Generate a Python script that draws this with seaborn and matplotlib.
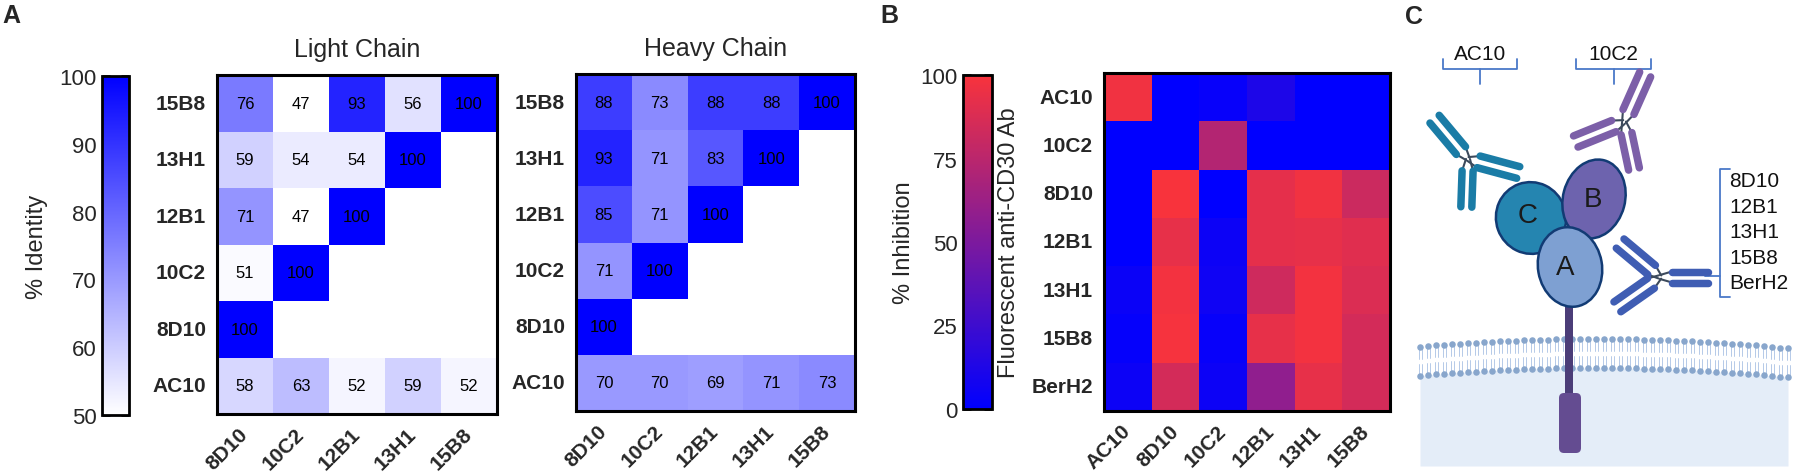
import numpy as np
import pandas as pd
import seaborn as sns
import matplotlib
matplotlib.use("Agg")
import matplotlib.pyplot as plt
from matplotlib.colors import LinearSegmentedColormap
from matplotlib.patches import Ellipse, FancyBboxPatch

# data
clones = ["8D10", "10C2", "12B1", "13H1", "15B8"]
rows_id = ["15B8", "13H1", "12B1", "10C2", "8D10", "AC10"]
nan = np.nan
light_chain = [[76, 47, 93, 56, 100],
               [59, 54, 54, 100, nan],
               [71, 47, 100, nan, nan],
               [51, 100, nan, nan, nan],
               [100, nan, nan, nan, nan],
               [58, 63, 52, 59, 52]]
heavy_chain = [[88, 73, 88, 88, 100],
               [93, 71, 83, 100, nan],
               [85, 71, 100, nan, nan],
               [71, 100, nan, nan, nan],
               [100, nan, nan, nan, nan],
               [70, 70, 69, 71, 73]]

rows_inh = ["AC10", "10C2", "8D10", "12B1", "13H1", "15B8", "BerH2"]
cols_inh = ["AC10", "8D10", "10C2", "12B1", "13H1", "15B8"]
inhibition = [[97, 0, 3, 12, 0, 0],
              [0, 0, 72, 0, 0, 0],
              [0, 100, 0, 92, 97, 82],
              [0, 93, 5, 92, 93, 90],
              [4, 98, 6, 83, 98, 88],
              [2, 99, 3, 93, 98, 85],
              [5, 85, 5, 58, 93, 85]]

cd30_groups = ["AC10", "10C2"]
shared_group = ["8D10", "12B1", "13H1", "15B8", "BerH2"]

df_light = pd.DataFrame(light_chain, index=rows_id, columns=clones)
df_heavy = pd.DataFrame(heavy_chain, index=rows_id, columns=clones)
df_inh = pd.DataFrame(inhibition, index=rows_inh, columns=cols_inh)

sns.set_theme(style="white")
plt.rcParams["font.family"] = ["Liberation Sans", "DejaVu Sans"]

W, H = 1797, 477
fig = plt.figure(figsize=(W / 100, H / 100), dpi=100)


def box(x0, y0, x1, y1):
    return [x0 / W, 1 - y1 / H, (x1 - x0) / W, (y1 - y0) / H]


cmap_id = LinearSegmentedColormap.from_list("ident", ["#ffffff", "#0000ff"])
cmap_inh = LinearSegmentedColormap.from_list("inh", ["#0000ff", "#f8333c"])

ax_l = fig.add_axes(box(217, 76, 497, 415))
ax_h = fig.add_axes(box(576, 75, 855, 412))
cax_a = fig.add_axes(box(102, 77, 129, 416))
ax_b = fig.add_axes(box(1104, 74, 1390, 412))
cax_b = fig.add_axes(box(963, 76, 992, 410))

annot_kw = {"size": 12, "color": "black"}
sns.heatmap(df_light, ax=ax_l, cmap=cmap_id, vmin=50, vmax=100, annot=True,
            fmt=".0f", annot_kws=annot_kw, cbar=True, cbar_ax=cax_a)
sns.heatmap(df_heavy, ax=ax_h, cmap=cmap_id, vmin=50, vmax=100, annot=True,
            fmt=".0f", annot_kws=annot_kw, cbar=False)
sns.heatmap(df_inh, ax=ax_b, cmap=cmap_inh, vmin=0, vmax=100, annot=False,
            cbar=True, cbar_ax=cax_b)

for ax in [ax_l, ax_h, ax_b]:
    for sp in ax.spines.values():
        sp.set_visible(True)
        sp.set_linewidth(2.2)
        sp.set_color("black")
    ax.tick_params(length=0)
    ax.tick_params(axis="y", pad=8)
    ax.tick_params(axis="x", pad=12)
    plt.setp(ax.get_yticklabels(), rotation=0, fontsize=15, fontweight="bold")
    plt.setp(ax.get_xticklabels(), rotation=45, ha="right", va="center",
             rotation_mode="anchor", fontsize=15, fontweight="bold")

ax_l.set_title("Light Chain", fontsize=18, pad=14)
ax_h.set_title("Heavy Chain", fontsize=18, pad=14)
ax_b.set_ylabel("Fluorescent anti-CD30 Ab", fontsize=17, labelpad=8)

for hm, cax, ticks, lab, lp in [(ax_l, cax_a, [50, 60, 70, 80, 90, 100], "% Identity", 8),
                                (ax_b, cax_b, [0, 25, 50, 75, 100], "% Inhibition", 4)]:
    cb = hm.collections[0].colorbar
    cb.set_ticks(ticks)
    cb.outline.set_linewidth(2)
    cb.outline.set_edgecolor("black")
    cax.yaxis.set_ticks_position("both")
    cax.yaxis.set_label_position("left")
    cax.tick_params(axis="y", direction="in", left=True, right=True,
                    labelleft=True, labelright=False, length=6, width=1.8,
                    labelsize=16, pad=4, color="black")
    cax.set_ylabel(lab, fontsize=17, labelpad=lp)

fig.text(2 / W, 1 - 4 / H, "A", fontsize=18, fontweight="bold", va="top")
fig.text(880 / W, 1 - 4 / H, "B", fontsize=18, fontweight="bold", va="top")
fig.text(1405 / W, 1 - 5 / H, "C", fontsize=18, fontweight="bold", va="top")

# panel C: schematic, drawn in pixel units
ax_c = fig.add_axes([1400 / W, 0, 397 / W, 1])
ax_c.set_xlim(1400, 1797)
ax_c.set_ylim(477, 0)
ax_c.axis("off")

xs = np.arange(1420, 1792, 8)
y_top = 340 + 0.00025 * (xs - 1595) ** 2
y_bot = y_top + 29
ax_c.fill_between(xs, y_bot, 467, color="#e4edf8", lw=0, zorder=1)
for x, yt, yb in zip(xs, y_top, y_bot):
    ax_c.plot([x - 1.5, x - 1.5], [yt, yt + 12], color="#a9c2e4", lw=0.6, zorder=2)
    ax_c.plot([x + 1.5, x + 1.5], [yt, yt + 12], color="#a9c2e4", lw=0.6, zorder=2)
    ax_c.plot([x - 1.5, x - 1.5], [yb, yb - 12], color="#a9c2e4", lw=0.6, zorder=2)
    ax_c.plot([x + 1.5, x + 1.5], [yb, yb - 12], color="#a9c2e4", lw=0.6, zorder=2)
ax_c.scatter(xs, y_top, s=22, color="#88a6cc", lw=0, zorder=3)
ax_c.scatter(xs, y_bot, s=22, color="#88a6cc", lw=0, zorder=3)

# CD30 stalk and intracellular part
ax_c.plot([1569, 1569], [300, 400], color="#4b3d78", lw=8 / 1.39,
          solid_capstyle="butt", zorder=4)
ax_c.add_patch(FancyBboxPatch((1559, 394), 22, 60, boxstyle="round,pad=0,rounding_size=5",
                              fc="#644c91", ec="none", zorder=5))

# domains
edge = "#123b74"
ax_c.add_patch(Ellipse((1531, 219), 70, 72, angle=-20, fc="#2585b0", ec=edge, lw=1.8, zorder=5))
ax_c.add_patch(Ellipse((1594, 200), 62, 80, angle=15, fc="#6d63ae", ec=edge, lw=1.8, zorder=6))
ax_c.add_patch(Ellipse((1570, 268), 64, 80, angle=-10, fc="#7ea0d2", ec=edge, lw=1.8, zorder=7))
ax_c.text(1528, 216, "C", fontsize=20, ha="center", va="center", color="#1a1a1a", zorder=8)
ax_c.text(1593, 200, "B", fontsize=20, ha="center", va="center", color="#1a1a1a", zorder=8)
ax_c.text(1565, 268, "A", fontsize=20, ha="center", va="center", color="#1a1a1a", zorder=8)


def antibody(ax, hx, hy, fc_ang, fab_angs, color):
    lw = 7.5 / 1.39
    for ang, r0, r1, off in [(fc_ang, 12, 48, 5.5)] + [(a, 11, 52, 6) for a in fab_angs]:
        t = np.deg2rad(ang)
        d = np.array([np.cos(t), np.sin(t)])
        p = np.array([-np.sin(t), np.cos(t)])
        for s in (-1, 1):
            a = np.array([hx, hy]) + d * r0 + p * off * s
            b = np.array([hx, hy]) + d * r1 + p * off * s
            ax.plot([a[0], b[0]], [a[1], b[1]], color=color, lw=lw,
                    solid_capstyle="round", zorder=6)
            ax.plot([hx + p[0] * 2 * s, a[0]], [hy + p[1] * 2 * s, a[1]],
                    color="#3c4a5c", lw=1.5, zorder=5)


antibody(ax_c, 1468, 160, 92, [230, 15], "#1a7ca6")
antibody(ax_c, 1624, 123, 78, [294, 158], "#7c5fa8")
antibody(ax_c, 1660, 278, 0, [220, 145], "#3f5db3")

# brackets and labels
bc = "#4a78c8"
for (x0, x1), name in zip([(1443, 1517), (1576, 1651)], cd30_groups):
    xm = (x0 + x1) / 2
    ax_c.plot([x0, x0, x1, x1], [60, 70, 70, 60], color=bc, lw=1.3, zorder=4)
    ax_c.plot([xm, xm], [70, 85], color=bc, lw=1.3, zorder=4)
    ax_c.text(xm, 54, name, fontsize=15, ha="center", va="center", color="#111111")

ax_c.plot([1730, 1720, 1720, 1730], [170, 170, 298, 298], color=bc, lw=1.3, zorder=4)
ax_c.plot([1720, 1705], [277, 277], color=bc, lw=1.3, zorder=4)
for i, name in enumerate(shared_group):
    ax_c.text(1729, 182 + i * 25.5, name, fontsize=15, ha="left", va="center", color="#111111")

fig.savefig("out.png", dpi=100)
